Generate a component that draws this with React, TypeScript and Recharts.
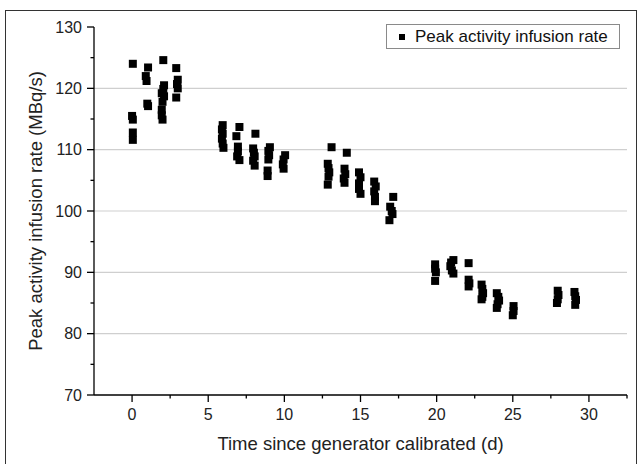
import { ScatterChart, Scatter, XAxis, YAxis, ZAxis, CartesianGrid, Legend } from 'recharts'

// 측정값 (일, MBq/s) - 그림에서 읽은 값
const pointDays = [
  0.05, 0.0, 0.05, 0.05, 0.05,
  1.05, 0.9, 0.95, 1.0, 1.05,
  2.05, 2.1, 2.05, 1.95, 2.1, 2.0, 1.95, 1.95, 2.0,
  2.9, 3.0, 2.95, 3.0, 2.9,
  5.95, 5.9, 5.95, 5.9, 5.95, 6.0,
  7.05, 6.85, 6.95, 6.95, 6.9, 7.05,
  8.1, 7.95, 8.0, 8.05, 7.95, 8.05,
  9.05, 8.95, 9.0, 8.95, 8.9, 8.9,
  10.05, 9.95, 9.9, 9.95,
  13.1, 12.85, 12.9, 12.95, 12.9, 12.85,
  14.1, 13.95, 14.0, 13.9, 13.95,
  14.9, 15.0, 14.9, 14.9, 15.0,
  15.9, 16.0, 15.9, 15.95, 15.95,
  17.15, 16.95, 17.05, 17.1, 16.9,
  19.9, 19.9, 19.95, 19.9,
  21.1, 20.95, 20.9, 21.0, 21.1,
  22.1, 22.1, 22.15, 22.1,
  22.95, 23.0, 23.05, 23.0, 22.95,
  23.95, 24.05, 24.1, 24.0, 23.95,
  25.05, 25.05, 25.0,
  27.95, 28.0, 27.95, 27.9,
  29.05, 29.1, 29.15, 29.1,
]

const pointRates = [
  124.0, 115.5, 114.9, 112.8, 111.6,
  123.4, 122.0, 121.2, 117.5, 117.1,
  124.6, 120.5, 119.9, 119.2, 118.7, 117.8, 116.5, 115.6, 114.9,
  123.3, 121.4, 120.7, 120.0, 118.5,
  114.0, 113.3, 112.6, 111.8, 111.0, 110.3,
  113.7, 112.2, 110.5, 109.7, 108.9, 108.3,
  112.6, 110.2, 109.5, 108.9, 108.2, 107.4,
  110.4, 109.8, 109.1, 108.4, 106.6, 105.7,
  109.1, 108.4, 107.6, 106.9,
  110.4, 107.7, 107.0, 106.3, 105.6, 104.3,
  109.5, 106.9, 106.0, 105.3, 104.6,
  106.3, 105.5, 104.5, 103.6, 102.8,
  104.8, 104.0, 103.2, 102.3, 101.6,
  102.3, 100.7, 100.0, 99.5, 98.5,
  91.3, 90.6, 90.0, 88.6,
  92.0, 91.6, 91.0, 90.3, 89.8,
  91.5, 88.8, 88.2, 87.7,
  88.0, 87.3, 86.6, 86.0, 85.6,
  86.6, 86.0, 85.4, 84.8, 84.2,
  84.5, 83.7, 83.0,
  87.0, 86.3, 85.6, 85.0,
  86.8, 86.1, 85.5, 84.7,
]

// 축 눈금 (주 눈금 + 보조 눈금)
const xTicks = [0, 2.5, 5, 7.5, 10, 12.5, 15, 17.5, 20, 22.5, 25, 27.5, 30, 32.5]
const yTicks = [70, 75, 80, 85, 90, 95, 100, 105, 110, 115, 120, 125, 130]
const gridValues = [80, 90, 100, 110, 120]

const seriesName = 'Peak activity infusion rate'
const xLabel = 'Time since generator calibrated (d)'
const yLabel = 'Peak activity infusion rate (MBq/s)'

const data = pointDays.map((d, i) => ({ day: d, rate: pointRates[i] }))

const FONT = '"Liberation Sans", Arial, sans-serif'
const TICK = 7
const GAP = 6

const XTick = (props: any) => {
  const { x, y, payload } = props
  const axisY = y - TICK - GAP
  const major = payload.value % 5 === 0
  return (
    <g>
      <line x1={x} x2={x} y1={axisY} y2={axisY + (major ? TICK : 3.5)} stroke="#000" strokeWidth={1.3} />
      {major && (
        <text x={x} y={y} dy="0.72em" textAnchor="middle" fontSize={16} fill="#222" fontFamily={FONT}>
          {payload.value}
        </text>
      )}
    </g>
  )
}

const YTick = (props: any) => {
  const { x, y, payload } = props
  const axisX = x + TICK + GAP
  const major = payload.value % 10 === 0
  return (
    <g>
      <line x1={axisX} x2={axisX - (major ? TICK : 3.5)} y1={y} y2={y} stroke="#000" strokeWidth={1.3} />
      {major && (
        <text x={x + 1} y={y} dy="0.36em" textAnchor="end" fontSize={16} fill="#222" fontFamily={FONT}>
          {payload.value}
        </text>
      )}
    </g>
  )
}

const LegendBox = () => (
  <div
    style={{
      boxSizing: 'border-box',
      width: 234,
      height: 25,
      border: '1px solid #8a8a8a',
      background: '#fff',
      display: 'flex',
      alignItems: 'center',
      fontFamily: FONT,
      fontSize: 17,
      color: '#111',
    }}
  >
    <span style={{ display: 'inline-block', width: 6, height: 6, background: '#000', marginLeft: 12, marginRight: 10 }} />
    <span>{seriesName}</span>
  </div>
)

export default function App() {
  return (
    <div style={{ position: 'absolute', left: 0, top: 0, width: 640, height: 464, overflow: 'hidden', background: '#fff' }}>
      {/* 바깥 테두리 */}
      <div
        style={{
          position: 'absolute',
          left: 5,
          top: 10,
          width: 632,
          height: 470,
          boxSizing: 'border-box',
          border: '1px solid #333',
        }}
      />
      <div style={{ position: 'absolute', left: 0, top: 0 }}>
        <ScatterChart width={640} height={464} margin={{ top: 27, right: 13, bottom: 19, left: 10 }}>
          <CartesianGrid vertical={false} horizontalValues={gridValues} stroke="#cfcfcf" strokeWidth={1.2} />
          <XAxis
            type="number"
            dataKey="day"
            domain={[-2.5, 32.5]}
            ticks={xTicks}
            interval={0}
            allowDataOverflow
            height={50}
            tickSize={TICK}
            tickMargin={GAP}
            tickLine={false}
            tick={<XTick />}
            axisLine={{ stroke: '#000', strokeWidth: 1.3 }}
            label={{
              content: (p: any) => (
                <text
                  x={p.viewBox.x + p.viewBox.width / 2}
                  y={p.viewBox.y + 48}
                  textAnchor="middle"
                  dominantBaseline="central"
                  fontSize={18.5}
                  fill="#222"
                  fontFamily={FONT}
                >
                  {xLabel}
                </text>
              ),
            }}
          />
          <YAxis
            type="number"
            dataKey="rate"
            domain={[70, 130]}
            ticks={yTicks}
            interval={0}
            allowDataOverflow
            width={84}
            tickSize={TICK}
            tickMargin={GAP}
            tickLine={false}
            tick={<YTick />}
            axisLine={{ stroke: '#000', strokeWidth: 1.3 }}
            label={{
              content: (p: any) => {
                const cx = p.viewBox.x + 25
                const cy = p.viewBox.y + p.viewBox.height / 2
                return (
                  <text
                    x={cx}
                    y={cy}
                    transform={`rotate(-90, ${cx}, ${cy})`}
                    textAnchor="middle"
                    dominantBaseline="central"
                    fontSize={18.5}
                    fill="#222"
                    fontFamily={FONT}
                  >
                    {yLabel}
                  </text>
                )
              },
            }}
          />
          <ZAxis range={[38, 38]} />
          <Legend
            layout="horizontal"
            align="center"
            verticalAlign="middle"
            wrapperStyle={{ left: 386, top: 24, width: 234 }}
            content={() => <LegendBox />}
          />
          <Scatter name={seriesName} data={data} fill="#000" shape="square" isAnimationActive={false} />
        </ScatterChart>
      </div>
    </div>
  )
}
